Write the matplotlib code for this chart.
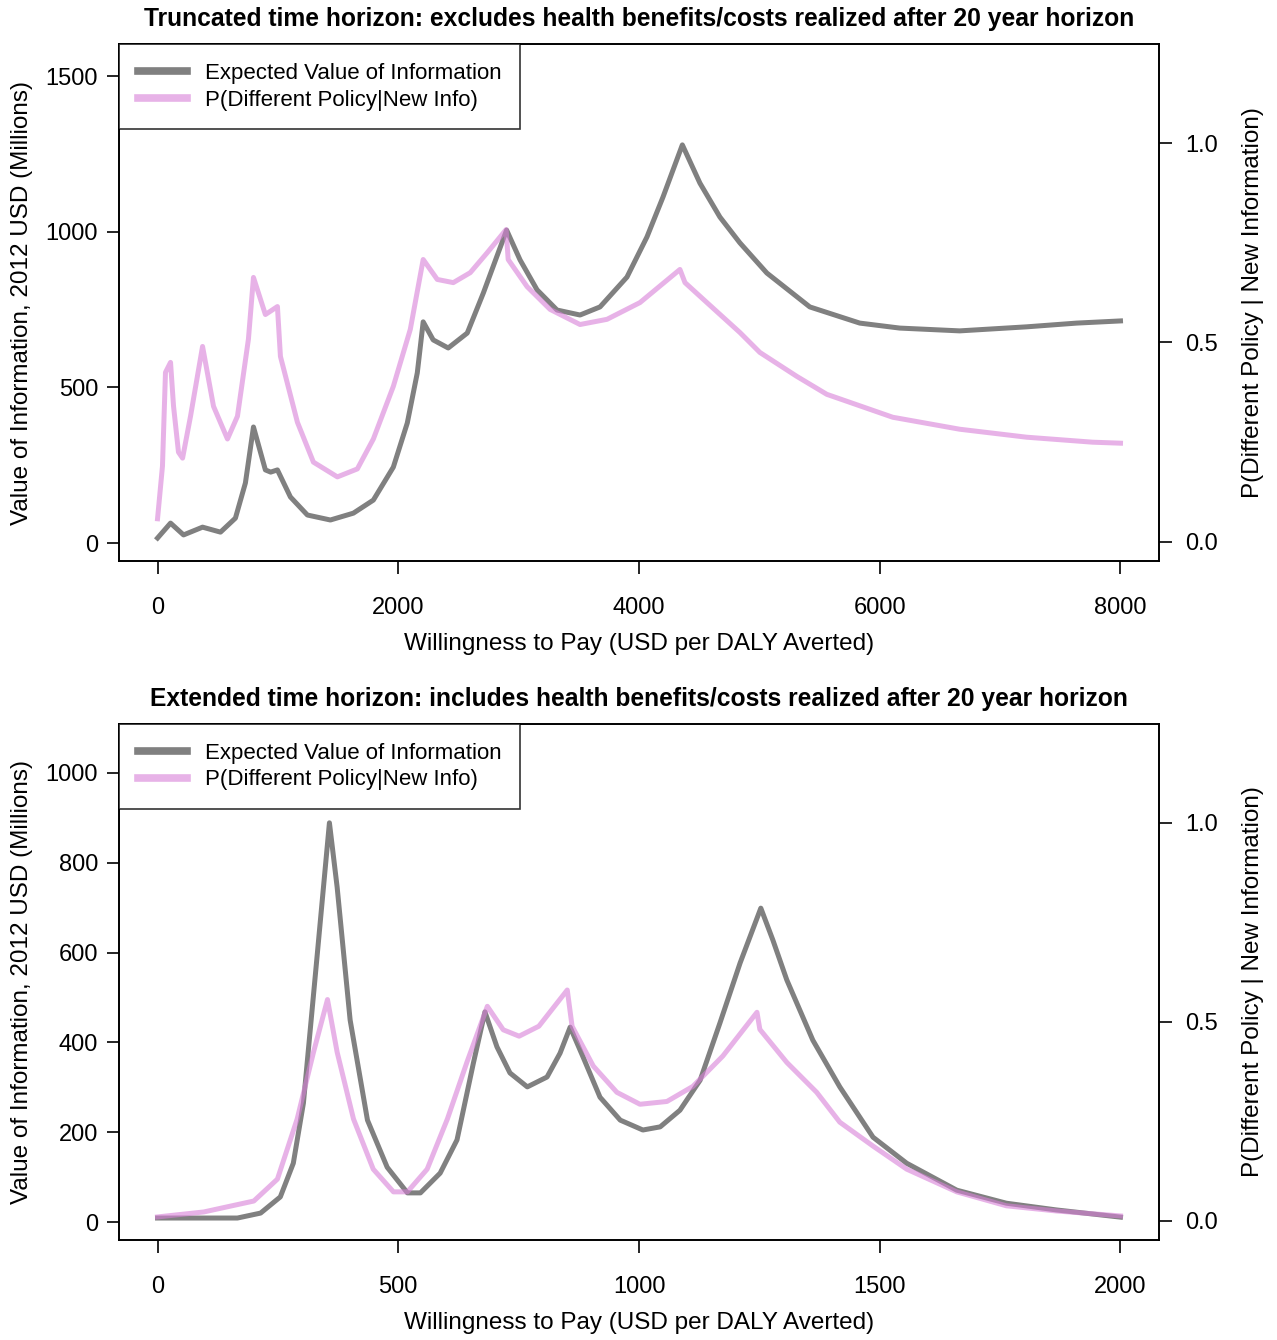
import matplotlib.pyplot as plt
from matplotlib.ticker import FormatStrFormatter

plt.rcParams["font.family"] = ["Liberation Sans", "DejaVu Sans"]

# truncated horizon (top panel)
wtp_evi_trunc = [0, 108, 216, 374, 523, 647, 730, 797, 896, 940, 996, 1104, 1245,
                 1436, 1627, 1793, 1959, 2075, 2158, 2207, 2290, 2415, 2573, 2707,
                 2900, 3012, 3153, 3319, 3510, 3676, 3900, 4066, 4199, 4360, 4506,
                 4672, 4838, 5062, 5419, 5834, 6166, 6664, 7220, 7635, 8000]
evi_trunc = [16, 64, 26, 51, 35, 80, 193, 373, 235, 228, 235, 148, 90,
             74, 96, 138, 244, 386, 547, 711, 653, 627, 675, 804,
             1006, 910, 814, 749, 733, 759, 855, 984, 1112, 1280, 1157,
             1048, 965, 868, 759, 707, 691, 682, 695, 707, 714]

wtp_p_trunc = [0, 41, 66, 108, 133, 174, 208, 274, 374, 465, 581, 664, 755, 797,
               896, 996, 1021, 1162, 1295, 1494, 1660, 1793, 1959, 2100, 2207,
               2324, 2457, 2598, 2739, 2896, 2913, 3070, 3261, 3510, 3734, 4008,
               4340, 4382, 4564, 4838, 5004, 5311, 5560, 6108, 6664, 7220, 7768,
               8000]
p_trunc = [0.058, 0.19, 0.425, 0.45, 0.34, 0.225, 0.21, 0.315, 0.49, 0.34, 0.258,
           0.315, 0.508, 0.663, 0.57, 0.59, 0.465, 0.30, 0.20, 0.163, 0.183, 0.258,
           0.39, 0.533, 0.708, 0.658, 0.65, 0.675, 0.725, 0.783, 0.708, 0.64, 0.583,
           0.545, 0.558, 0.60, 0.683, 0.65, 0.60, 0.525, 0.475, 0.415, 0.37, 0.3125,
           0.2825, 0.2625, 0.25, 0.2475]

# extended horizon (bottom panel)
wtp_evi_ext = [0, 166, 214, 255, 282, 303, 332, 357, 373, 400, 436, 477, 519, 546,
               587, 622, 656, 680, 705, 732, 768, 809, 836, 857, 884, 919, 961,
               1008, 1044, 1085, 1127, 1168, 1210, 1253, 1278, 1307, 1361, 1417,
               1486, 1556, 1660, 1763, 1867, 2000]
evi_ext = [9, 9, 20, 56, 131, 265, 599, 889, 746, 450, 227, 122, 65, 65,
           109, 183, 354, 468, 390, 332, 301, 323, 376, 434, 367, 278, 227,
           205, 212, 249, 316, 443, 577, 699, 628, 539, 405, 301,
           189, 131, 71, 42, 27, 11]

wtp_p_ext = [0, 96, 200, 249, 290, 324, 353, 373, 407, 448, 490, 519, 560, 602,
             643, 685, 718, 751, 792, 851, 861, 905, 954, 1002, 1058, 1112, 1174,
             1245, 1251, 1307, 1369, 1417, 1486, 1556, 1660, 1763, 1867, 2000]
p_ext = [0.01, 0.0225, 0.05, 0.105, 0.256, 0.424, 0.556, 0.424, 0.256, 0.13, 0.073,
         0.073, 0.13, 0.256, 0.40, 0.539, 0.48, 0.464, 0.489, 0.58, 0.489, 0.389,
         0.323, 0.293, 0.30, 0.338, 0.414, 0.524, 0.481, 0.398, 0.323, 0.248,
         0.188, 0.13, 0.073, 0.038, 0.025, 0.0125]

GRAY = "#808080"
PINK = "#d880d8"
FS = 17
LFS = 17.5

panels = [
    dict(rect=[0.0932, 0.5813, 0.8144, 0.3858],
         title="Truncated time horizon: excludes health benefits/costs realized after 20 year horizon",
         xe=wtp_evi_trunc, ye=evi_trunc, xp=wtp_p_trunc, yp=p_trunc,
         xlim=(-320, 8320), xticks=[0, 2000, 4000, 6000, 8000],
         ylim=(-58, 1604), yticks=[0, 500, 1000, 1500]),
    dict(rect=[0.0932, 0.0746, 0.8144, 0.3851],
         title="Extended time horizon: includes health benefits/costs realized after 20 year horizon",
         xe=wtp_evi_ext, ye=evi_ext, xp=wtp_p_ext, yp=p_ext,
         xlim=(-80, 2080), xticks=[0, 500, 1000, 1500, 2000],
         ylim=(-40, 1109), yticks=[0, 200, 400, 600, 800, 1000]),
]

fig = plt.figure(figsize=(12.77, 13.40), dpi=100)

for p in panels:
    ax = fig.add_axes(p["rect"])
    ax.plot(p["xe"], p["ye"], color=GRAY, lw=3.6, solid_joinstyle="round",
            label="Expected Value of Information")
    ax.set_xlim(*p["xlim"])
    ax.set_ylim(*p["ylim"])
    ax.set_xticks(p["xticks"])
    ax.set_yticks(p["yticks"])
    ax.set_xlabel("Willingness to Pay (USD per DALY Averted)", fontsize=LFS, labelpad=10)
    ax.set_ylabel("Value of Information, 2012 USD (Millions)", fontsize=LFS, labelpad=9)
    ax.set_title(p["title"], fontsize=17.7, fontweight="bold", pad=13)
    ax.tick_params(direction="out", length=9, width=1.2, labelsize=FS, pad=6)
    ax.tick_params(axis="x", pad=17)

    ax2 = ax.twinx()
    ax2.plot(p["xp"], p["yp"], color=PINK, alpha=0.6, lw=3.6, solid_joinstyle="round",
             label="P(Different Policy|New Info)")
    ax2.set_ylim(-0.048, 1.248)
    ax2.set_yticks([0.0, 0.5, 1.0])
    ax2.yaxis.set_major_formatter(FormatStrFormatter("%.1f"))
    ax2.set_ylabel("P(Different Policy | New Information)", fontsize=LFS, labelpad=17)
    ax2.tick_params(direction="out", length=9, width=1.2, labelsize=FS, pad=10)

    for a in (ax, ax2):
        for s in a.spines.values():
            s.set_color("black")
            s.set_linewidth(1.2)

    h1, l1 = ax.get_legend_handles_labels()
    h2, l2 = ax2.get_legend_handles_labels()
    leg = ax2.legend(h1 + h2, l1 + l2, loc="upper left", fontsize=16,
                     frameon=True, fancybox=False, edgecolor="black",
                     borderaxespad=0, handlelength=2.2, handletextpad=0.8,
                     borderpad=0.85, labelspacing=0.25)
    leg.get_frame().set_linewidth(1.2)
    for line in leg.get_lines():
        line.set_linewidth(5.5)

fig.savefig("out.png", dpi=100)
